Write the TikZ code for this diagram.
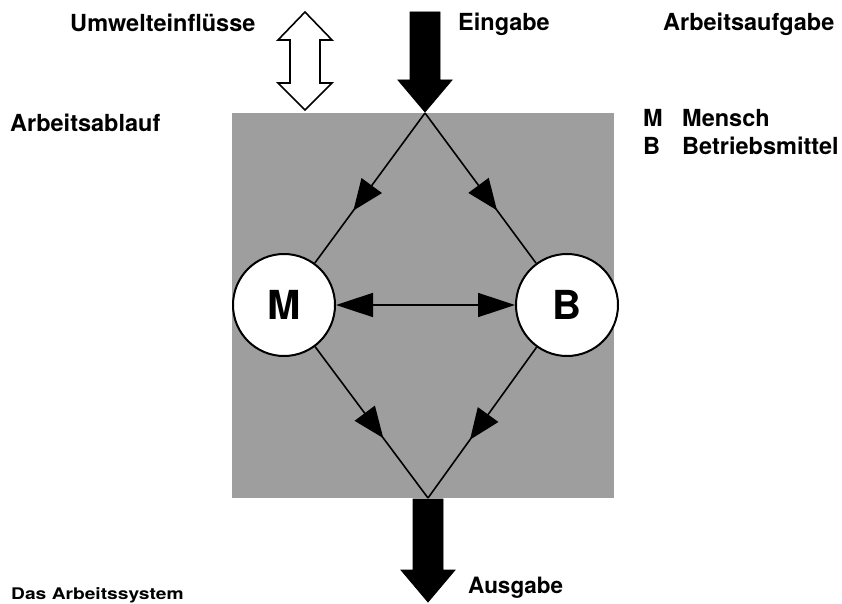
\documentclass[tikz,border=0pt]{standalone}
\usepackage{fontspec}
\usepackage{graphicx}
\setmainfont{TeX Gyre Heros}
\usetikzlibrary{arrows.meta,decorations.markings}
\begin{document}
\begin{tikzpicture}[x=1pt,y=-1pt,
  lbl/.style={anchor=base west,inner sep=0pt,font=\bfseries\fontsize{23.5}{28}\selectfont},
  circ/.style={circle,draw,line width=2pt,fill=white,minimum size=102pt,inner sep=0pt,font=\bfseries\fontsize{40}{48}\selectfont},
  flow/.style={line width=1.6pt},
  midarrow/.style={postaction={decorate,decoration={markings,mark=at position #1 with {\arrow{Triangle[length=31pt 0,width=25pt 0]}}}}},
  bigtip/.style={{Triangle[length=37pt 0,width=24pt 0]}-{Triangle[length=37pt 0,width=24pt 0]}},
  area/.style={fill=black!38,draw=none},
  blockarrow/.style={fill=black,draw=black,line width=0.8pt},
  hollowarrow/.style={fill=white,draw=black,line width=1.6pt,line join=miter}
]
\useasboundingbox (0,0) rectangle (842,604);

% working area
\fill[area] (232,113) rectangle (614,498);

% input / output arrows
\draw[blockarrow] (410,12) -- (440,12) -- (440,80) -- (452,80) -- (425,112) -- (398,80) -- (410,80) -- cycle;
\draw[blockarrow] (413,499) -- (443,499) -- (443,570) -- (455,570) -- (428,602) -- (401,570) -- (413,570) -- cycle;
% environment double arrow
\draw[hollowarrow] (305,12) -- (332,40) -- (320,40) -- (320,83) -- (332,83) -- (305,110) -- (278,83) -- (290,83) -- (290,40) -- (278,40) -- cycle;

% nodes
\coordinate (top) at (425,113);
\coordinate (bot) at (428,498);
\node[circ] (M) at (284,305) {M};
\node[circ] (B) at (567,305) {B};

% connectors
\draw[flow,midarrow=121pt] (top) -- (M);
\draw[flow,midarrow=121pt] (top) -- (B);
\draw[flow,midarrow=114pt] (M) -- (bot);
\draw[flow,midarrow=114pt] (B) -- (bot);
\draw[flow,bigtip] (M) -- (B);

% labels
\node[lbl] (umw) at (70,32) {Umwelteinflüsse};
\node[lbl] (ein) at (458,31) {Eingabe};
\node[lbl] (auf) at (663,31) {Arbeitsaufgabe};
\node[lbl] (abl) at (10,132) {Arbeitsablauf};
\node[lbl] (lm) at (643,127) {M};
\node[lbl] (lmt) at (682,127) {Mensch};
\node[lbl] (lb) at (643,155) {B};
\node[lbl] (lbt) at (682,155) {Betriebsmittel};
\node[lbl,font=\bfseries\fontsize{22.5}{27}\selectfont] (aus) at (468,593) {Ausgabe};
\node[lbl,font=\bfseries\fontsize{16}{19}\selectfont] (sys) at (11,599) {\scalebox{1.2}[1]{Das Arbeitssystem}};
\end{tikzpicture}
\end{document}
